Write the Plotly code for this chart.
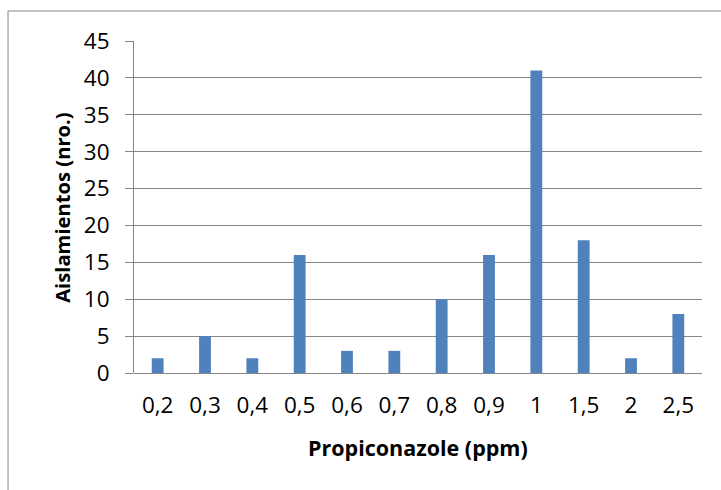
import plotly.graph_objects as go

categories = ["0,2", "0,3", "0,4", "0,5", "0,6", "0,7", "0,8", "0,9", "1", "1,5", "2", "2,5"]
aislamientos = [2, 5, 2, 16, 3, 3, 10, 16, 41, 18, 2, 8]
y_ticks = [0, 5, 10, 15, 20, 25, 30, 35, 40, 45]
x_title = "Propiconazole (ppm)"
y_title = "Aislamientos (nro.)"

FONT = "Open Sans"
GRID = "#868686"

fig = go.Figure(go.Bar(x=categories, y=aislamientos, marker_color="#4F81BD",
                       marker_line_width=0, width=0.25))

fig.update_layout(
    width=721, height=490,
    margin=dict(l=134, r=19, t=41, b=117),
    paper_bgcolor="white", plot_bgcolor="white",
    font=dict(family=FONT, size=22, color="black"),
    showlegend=False,
)
fig.update_xaxes(type="category", showgrid=False, showline=False, ticks="",
                 ticklabelstandoff=16, tickfont=dict(size=22.5))
fig.update_yaxes(range=[0, 45], tickvals=y_ticks, showgrid=True, gridcolor=GRID, gridwidth=1,
                 showline=True, linecolor=GRID, linewidth=1, ticks="outside", ticklen=8,
                 tickcolor=GRID, zeroline=True, zerolinecolor=GRID, zerolinewidth=1,
                 ticklabelstandoff=11, tickfont=dict(size=22.5))

fig.add_annotation(text="<b>" + x_title + "</b>", xref="paper", yref="paper", x=0.5, y=-0.223,
                   xanchor="center", yanchor="middle", showarrow=False, font=dict(size=21.5, family=FONT))
fig.add_annotation(text="<b>" + y_title + "</b>", xref="paper", yref="paper", x=-0.127, y=0.5,
                   xanchor="center", yanchor="middle", textangle=-90, showarrow=False,
                   font=dict(size=20.2, family=FONT))

fig.add_shape(type="rect", xref="paper", yref="paper", x0=-0.2218, x1=1.2, y0=-0.5, y1=1.0904,
              line=dict(color=GRID, width=1), layer="below")

fig.write_html("out.html")
